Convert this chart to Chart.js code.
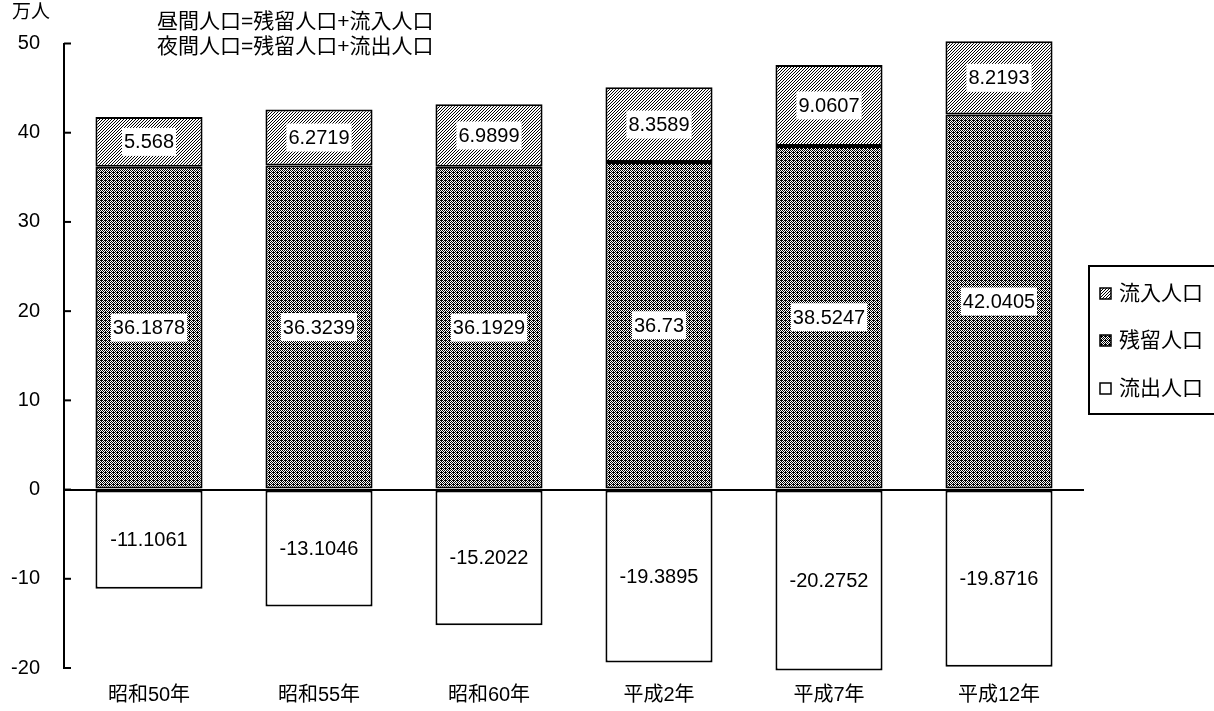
<!DOCTYPE html>
<html>
<head>
<meta charset="utf-8">
<script src="https://cdn.jsdelivr.net/npm/chart.js@4.4.1/dist/chart.umd.min.js"></script>
<style>
  html, body { margin: 0; padding: 0; background: #fff; }
  #wrap { width: 1214px; height: 711px; position: relative; }
</style>
</head>
<body>
<div id="wrap"><canvas id="PopChart"></canvas></div>
<script>
var categories = ['昭和50年', '昭和55年', '昭和60年', '平成2年', '平成7年', '平成12年'];
var zanryu = [36.1878, 36.3239, 36.1929, 36.73, 38.5247, 42.0405];
var ryunyu = [5.568, 6.2719, 6.9899, 8.3589, 9.0607, 8.2193];
var ryushutsu = [-11.1061, -13.1046, -15.2022, -19.3895, -20.2752, -19.8716];
var seriesNames = ['残留人口', '流入人口', '流出人口'];
var legendOrder = ['流入人口', '残留人口', '流出人口'];
var notes = ['昼間人口=残留人口+流入人口', '夜間人口=残留人口+流出人口'];
var unitLabel = '万人';

var FONT = '"Liberation Sans", "Noto Sans CJK JP", sans-serif';

// hatch fills
function makePattern(draw, size) {
    var c = document.createElement('canvas');
    c.width = size; c.height = size;
    var g = c.getContext('2d');
    g.fillStyle = '#fff';
    g.fillRect(0, 0, size, size);
    g.fillStyle = '#000';
    draw(g);
    return g.createPattern(c, 'repeat');
}
var diagFill = makePattern(function (g) {
    for (var y = 0; y < 3; y++) {
        g.fillRect((2 - y + 3) % 3, y, 1, 1);
    }
}, 3);
var dotFill = makePattern(function (g) {
    for (var y = 0; y < 4; y++) {
        for (var x = 0; x < 4; x++) {
            if ((x + y) % 2 === 0) g.fillRect(x, y, 1, 1);
        }
    }
    g.fillRect(1, 0, 1, 1);
}, 4);
var fills = { '残留人口': dotFill, '流入人口': diagFill, '流出人口': '#fff' };

var valueLabels = {
    id: 'valueLabels',
    afterDatasetsDraw: function (chart) {
        var ctx = chart.ctx;
        ctx.save();
        ctx.font = '20px ' + FONT;
        ctx.textAlign = 'center';
        ctx.textBaseline = 'middle';
        chart.data.datasets.forEach(function (ds, di) {
            chart.getDatasetMeta(di).data.forEach(function (bar, i) {
                var cy = (bar.y + bar.base) / 2;
                var txt = String(ds.data[i]);
                var w = ctx.measureText(txt).width;
                ctx.fillStyle = '#fff';
                ctx.fillRect(bar.x - w / 2 - 2, cy - 14, w + 4, 28);
                ctx.fillStyle = '#000';
                ctx.fillText(txt, bar.x, cy + 1);
            });
        });
        ctx.restore();
    }
};

var extras = {
    id: 'extras',
    afterDraw: function (chart) {
        var ctx = chart.ctx;
        var y = chart.scales.y;
        var left = chart.chartArea.left;
        ctx.save();
        // inward tick marks
        ctx.strokeStyle = '#000';
        ctx.lineWidth = 2;
        y.ticks.forEach(function (t) {
            var py = y.getPixelForValue(t.value);
            ctx.beginPath();
            ctx.moveTo(left, py);
            ctx.lineTo(left + 7, py);
            ctx.stroke();
        });
        // unit and notes
        ctx.fillStyle = '#000';
        ctx.textBaseline = 'middle';
        ctx.textAlign = 'left';
        ctx.font = '19px ' + FONT;
        ctx.fillText(unitLabel, 12, 13);
        ctx.font = '21px ' + FONT;
        ctx.fillText(notes[0], 157, 22);
        ctx.fillText(notes[1], 157, 47);
        // legend
        ctx.lineWidth = 2;
        ctx.strokeRect(1089, 266, 140, 148);
        var rows = [293, 340, 388];
        legendOrder.forEach(function (name, k) {
            ctx.fillStyle = fills[name];
            ctx.fillRect(1100, rows[k] - 5, 11, 11);
            ctx.lineWidth = 1.5;
            ctx.strokeRect(1100, rows[k] - 5, 11, 11);
            ctx.fillStyle = '#000';
            ctx.font = '21px ' + FONT;
            ctx.fillText(name, 1119, rows[k] + 1);
        });
        ctx.restore();
    }
};

function makeSet(name, values) {
    return {
        label: name,
        data: values,
        backgroundColor: fills[name],
        borderColor: '#000',
        borderWidth: 2,
        borderSkipped: false,
        barPercentage: 0.63,
        categoryPercentage: 1,
        clip: false
    };
}

new Chart(document.getElementById('PopChart'), {
    type: 'bar',
    data: {
        labels: categories,
        datasets: [
            makeSet(seriesNames[0], zanryu),
            makeSet(seriesNames[1], ryunyu),
            makeSet(seriesNames[2], ryushutsu)
        ]
    },
    options: {
        responsive: true,
        maintainAspectRatio: false,
        animation: false,
        layout: { padding: { top: 43.5, right: 130, left: 0, bottom: 0 } },
        plugins: {
            legend: { display: false },
            tooltip: { enabled: false }
        },
        scales: {
            x: {
                stacked: true,
                grid: { display: false, drawTicks: false },
                border: { display: false },
                ticks: { color: '#000', font: { size: 20, family: FONT }, padding: 15 },
                afterFit: function (s) { s.height = 43; }
            },
            y: {
                stacked: true,
                min: -20,
                max: 50,
                ticks: { stepSize: 10, color: '#000', font: { size: 20, family: FONT }, padding: 24 },
                grid: {
                    drawTicks: false,
                    lineWidth: 2,
                    color: function (c) { return c.tick && c.tick.value === 0 ? '#000' : 'rgba(0,0,0,0)'; }
                },
                border: { display: true, color: '#000', width: 2 },
                afterFit: function (s) { s.width = 64; }
            }
        }
    },
    plugins: [valueLabels, extras]
});
</script>
</body>
</html>
